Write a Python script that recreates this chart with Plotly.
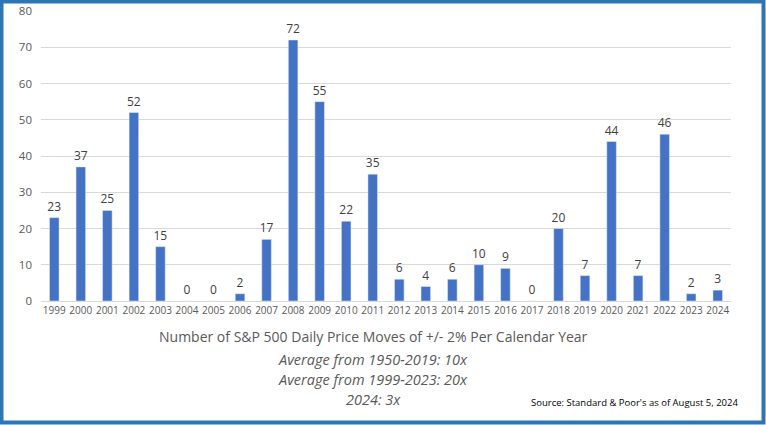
import plotly.graph_objects as go

years = [str(y) for y in range(1999, 2025)]
moves = [23, 37, 25, 52, 15, 0, 0, 2, 17, 72, 55, 22, 35, 6, 4, 6, 10, 9, 0, 20, 7, 44, 7, 46, 2, 3]
y_ticks = [0, 10, 20, 30, 40, 50, 60, 70, 80]

title_line = "Number of S&P 500 Daily Price Moves of +/- 2% Per Calendar Year"
sub_lines = ["Average from 1950-2019: 10x", "Average from 1999-2023: 20x", "2024: 3x"]
source = "Source: Standard & Poor's as of August 5, 2024"

W, H = 766, 425
L, R, T, B = 41, 35, 11, 124
pw, ph = W - L - R, H - T - B

FONT = "'Open Sans', Lato, sans-serif"

fig = go.Figure(go.Bar(
    x=years, y=moves, marker_color="#4472C4",
    text=[str(v) for v in moves], textposition="outside", cliponaxis=False,
    constraintext="none",
    textfont=dict(family=FONT, size=12, color="#404040"),
))

def px_x(x):
    return (x - L) / pw

def px_y(y):
    return (H - B - y) / ph

annotations = [
    dict(text=title_line, x=px_x(373), y=px_y(348), xref="paper", yref="paper",
         showarrow=False, font=dict(family=FONT, size=14, color="#595959")),
]
for i, s in enumerate(sub_lines):
    annotations.append(dict(text="<i>" + s + "</i>", x=px_x(373), y=px_y(371 + 20 * i),
                            xref="paper", yref="paper", showarrow=False,
                            font=dict(family=FONT, size=14.5, color="#595959")))
annotations.append(dict(text=source, x=px_x(740), y=px_y(411), xref="paper", yref="paper",
                        xanchor="right", showarrow=False,
                        font=dict(family=FONT, size=9.5, color="#000000")))

fig.update_layout(
    width=W, height=H, margin=dict(l=L, r=R, t=T, b=B),
    paper_bgcolor="white", plot_bgcolor="white",
    bargap=0.64, showlegend=False,
    font=dict(family=FONT, color="#595959"),
    xaxis=dict(type="category", showgrid=False, ticks="", tickangle=0, automargin=False,
               tickfont=dict(size=10, color="#595959"),
               showline=True, linecolor="#D9D9D9", linewidth=1),
    yaxis=dict(range=[0, 80], tickvals=y_ticks, showgrid=True, gridcolor="#D9D9D9",
               automargin=False, zeroline=False, tickfont=dict(size=11.5, color="#595959"),
               ticklabelstandoff=8),
    annotations=annotations,
    shapes=[dict(type="rect", xref="paper", yref="paper",
                 x0=px_x(1.5), x1=px_x(763.5), y0=px_y(422.5), y1=px_y(1.5),
                 line=dict(color="#2E75B6", width=4), layer="above")],
)

fig.write_html("out.html", config={"displayModeBar": False},
               post_script="document.body.style.margin='0';")
